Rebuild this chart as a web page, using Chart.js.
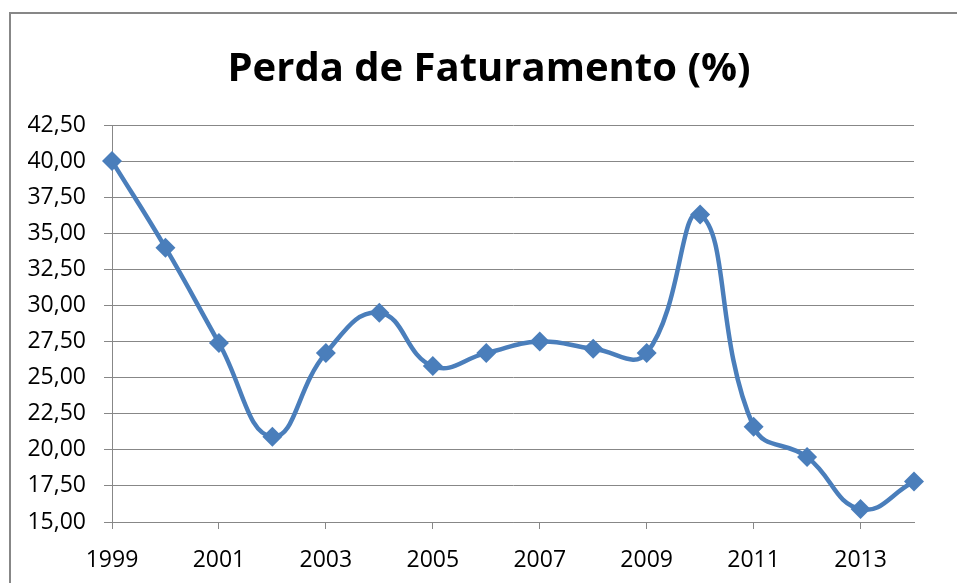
<!DOCTYPE html>
<html>
<head>
<meta charset="utf-8">
<script src="https://cdn.jsdelivr.net/npm/chart.js@4"></script>
<style>
  body { margin: 0; background: #fff; overflow: hidden; }
  #moldura { position: absolute; left: 9px; top: 12px; width: 1000px; height: 700px; border: 2px solid #878787; }
  #grafica { position: absolute; left: 0; top: 0; }
</style>
</head>
<body>
<div id="moldura"></div>
<canvas id="grafica" width="957" height="583"></canvas>
<script>
const anos = ["1999", "2000", "2001", "2002", "2003", "2004", "2005", "2006",
    "2007", "2008", "2009", "2010", "2011", "2012", "2013", "2014"];
const perda = [40.0, 34.0, 27.4, 20.9, 26.7, 29.5, 25.8, 26.7,
    27.5, 27.0, 26.7, 36.3, 21.6, 19.5, 15.9, 17.8];
const escalaY = { min: 15, max: 42.5, passo: 2.5 };
const titulo = "Perda de Faturamento (%)";

const azul = '#4a7ebb';
const cinza = '#878787';
const fonte = "'Open Sans', sans-serif";

// titulo desenhado a mao para ficar centrado como no original
const tituloPlugin = {
    id: 'tituloPerda',
    afterDraw(chart) {
        const c = chart.ctx;
        c.save();
        c.font = "bold 40px " + fonte;
        c.fillStyle = '#000';
        c.textAlign = 'center';
        c.textBaseline = 'middle';
        c.fillText(titulo, 489, 70);
        c.restore();
    }
};

const data = {
    labels: anos,
    datasets: [
        {
            label: titulo,
            data: perda,
            borderColor: azul,
            backgroundColor: azul,
            borderWidth: 4.5,
            tension: 0.45,
            pointStyle: 'rectRot',
            pointRadius: 10,
            pointHoverRadius: 10,
            pointBorderWidth: 0,
        }
    ]
};

const config = {
    type: 'line',
    data: data,
    plugins: [tituloPlugin],
    options: {
        responsive: false,
        animation: false,
        layout: { padding: { left: 10, right: 43, top: 125, bottom: 0 } },
        plugins: {
            legend: { display: false },
            tooltip: { enabled: false },
            title: { display: false },
        },
        scales: {
            x: {
                offset: false,
                afterBuildTicks: s => { s.ticks = s.ticks.filter((t, i) => i % 2 === 0); },
                afterFit: s => { s.height = 61; },
                grid: { drawOnChartArea: false, color: cinza, tickLength: 7 },
                border: { color: cinza, width: 1 },
                ticks: { autoSkip: false, maxRotation: 0, color: '#000', padding: 18,
                    font: { family: fonte, size: 23 } },
            },
            y: {
                min: escalaY.min,
                max: escalaY.max,
                afterFit: s => { s.width = 102; },
                grid: { color: cinza, tickLength: 8 },
                border: { color: cinza, width: 1 },
                ticks: {
                    stepSize: escalaY.passo, color: '#000', padding: 18,
                    font: { family: fonte, size: 23 },
                    callback: v => v.toFixed(2).replace('.', ','),
                },
            },
        },
    }
};

const ctx = document.getElementById('grafica').getContext('2d');
const graficaPerda = new Chart(ctx, config);
</script>
</body>
</html>
